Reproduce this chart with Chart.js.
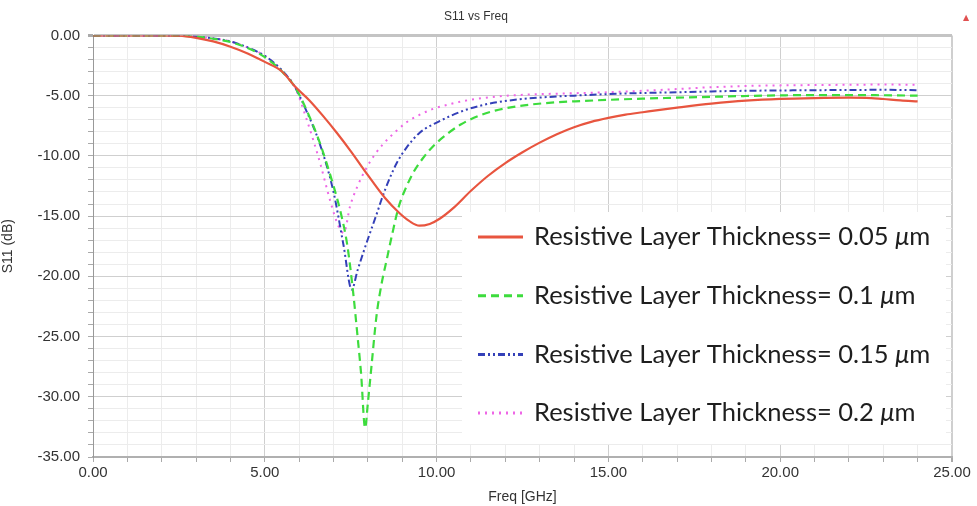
<!DOCTYPE html>
<html>
<head>
<meta charset="utf-8">
<title>S11 vs Freq</title>
<script src="https://cdn.jsdelivr.net/npm/chart.js@4.4.1/dist/chart.umd.min.js"></script>
<style>
    html, body { margin: 0; padding: 0; background: #ffffff; }
    #wrap { width: 977px; height: 506px; position: relative; }
</style>
</head>
<body>
<div id="wrap"><canvas id="s11Chart"></canvas></div>
<script>
// ==================== DATA ====================

var thickness = ["0.05", "0.1", "0.15", "0.2"];

// 0.05 um
var redFreq = [0, 1, 2, 2.5, 3, 3.5, 4, 4.5, 5, 5.5, 5.88, 6.3, 6.7, 7.1, 7.5, 8, 8.5, 8.9, 9.2, 9.5, 9.8, 10.1, 10.5, 11, 11.5, 12, 12.5, 13, 13.5, 14, 14.5, 15, 15.5, 16, 16.5, 17, 18, 19, 20, 21, 22, 22.5, 23, 23.5, 24];
var redS11 = [0, 0, 0, -0.02, -0.2, -0.5, -0.94, -1.5, -2.2, -3.0, -4.25, -5.4, -6.7, -8.1, -9.6, -11.6, -13.5, -14.7, -15.4, -15.8, -15.65, -15.2, -14.3, -12.9, -11.65, -10.6, -9.7, -8.9, -8.2, -7.62, -7.18, -6.85, -6.58, -6.38, -6.18, -6.0, -5.67, -5.42, -5.27, -5.2, -5.17, -5.18, -5.28, -5.4, -5.47];

// 0.1 um
var greenFreq = [0, 2, 2.5, 3, 3.5, 4, 4.5, 5, 5.5, 5.88, 6.2, 6.6, 7, 7.2, 7.4, 7.57, 7.7, 7.8, 7.92, 8, 8.1, 8.25, 8.4, 8.55, 8.7, 8.9, 9.1, 9.32, 9.6, 9.9, 10.3, 10.7, 11.2, 11.7, 12.2, 12.7, 13.5, 14.2, 15, 16, 17, 18, 19, 20, 21, 22, 23, 24];
var greenS11 = [0, 0, -0.02, -0.1, -0.28, -0.55, -1.05, -1.8, -3.0, -4.3, -6.1, -8.9, -12.5, -14.6, -17.4, -21.3, -25, -28, -32.6, -30.5, -27.6, -23.3, -20.6, -18.6, -16.6, -14.2, -12.7, -11.4, -10.2, -9.2, -8.2, -7.4, -6.7, -6.25, -5.95, -5.75, -5.55, -5.45, -5.35, -5.25, -5.17, -5.1, -5.03, -4.98, -4.95, -4.95, -4.97, -5.0];

// 0.15 um
var blueFreq = [0, 2, 2.5, 3, 3.5, 4, 4.5, 5, 5.5, 5.88, 6.2, 6.6, 7, 7.29, 7.53, 7.7, 7.87, 8.05, 8.26, 8.4, 8.6, 8.84, 9.13, 9.5, 10.1, 10.78, 11.25, 11.75, 12.5, 13.2, 14, 15, 16, 17, 18, 19, 20, 21, 22, 23, 24];
var blueS11 = [0, 0, -0.02, -0.1, -0.25, -0.5, -1.0, -1.7, -2.9, -4.3, -6.2, -9.0, -13.0, -17.4, -21.1, -19.5, -18.0, -16.5, -14.8, -13.6, -12.1, -10.6, -9.3, -8.1, -7.1, -6.25, -5.85, -5.55, -5.28, -5.12, -5.0, -4.87, -4.78, -4.72, -4.65, -4.6, -4.57, -4.55, -4.53, -4.52, -4.55];

// 0.2 um
var pinkFreq = [0, 2, 2.5, 3, 3.5, 4, 4.5, 5, 5.5, 5.88, 6.22, 6.61, 6.9, 7.14, 7.3, 7.48, 7.7, 7.96, 8.2, 8.45, 8.84, 9.13, 9.5, 9.9, 10.4, 10.78, 11.5, 12.2, 13, 14, 15, 16, 17, 18, 19, 20, 21, 22, 23, 24];
var pinkS11 = [0, 0, -0.02, -0.1, -0.25, -0.5, -1.0, -1.7, -2.95, -4.3, -7.0, -10.6, -13.7, -15.8, -16.4, -14.2, -12.5, -11.0, -9.9, -9.0, -7.9, -7.2, -6.6, -6.1, -5.7, -5.45, -5.15, -4.98, -4.88, -4.8, -4.72, -4.6, -4.45, -4.3, -4.2, -4.15, -4.12, -4.1, -4.08, -4.1];

// ==================== CHART ====================

function toPoints(xs, ys) {
    var pts = [];
    for (var i = 0; i < xs.length; i++) {
        pts.push({ x: xs[i], y: ys[i] });
    }
    return pts;
}

var axisFont = "'Liberation Sans Narrow', 'Liberation Sans', Arial, sans-serif";
var legendFont = "25.5px Lato, 'Open Sans', sans-serif";

// legend drawn inside the plot, like the HFSS export
var insideLegend = {
    id: "insideLegend",
    afterDraw: function(chart) {
        var ctx = chart.ctx;
        var sets = chart.data.datasets;
        ctx.save();
        ctx.fillStyle = "#ffffff";
        ctx.fillRect(462, 212, 484, 232);

        for (var i = 0; i < sets.length; i++) {
            var ds = sets[i];
            var y = 237 + i * 58.7;
            ctx.strokeStyle = ds.borderColor;
            ctx.lineWidth = 3;
            ctx.setLineDash(ds.borderDash || []);
            ctx.beginPath();
            ctx.moveTo(478, y);
            ctx.lineTo(523, y);
            ctx.stroke();
            ctx.setLineDash([]);

            ctx.fillStyle = "#1e1e1e";
            ctx.textBaseline = "middle";
            ctx.textAlign = "left";
            var x = 534;
            var txt = "Resistive Layer Thickness= " + thickness[i] + " ";
            ctx.font = legendFont;
            ctx.fillText(txt, x, y);
            x += ctx.measureText(txt).width;
            ctx.font = "italic " + legendFont;
            ctx.fillText("\u03bc", x, y);
            x += ctx.measureText("\u03bc").width;
            ctx.font = legendFont;
            ctx.fillText("m", x, y);
        }

        // little marker in the corner
        ctx.fillStyle = "#e05050";
        ctx.font = "8px 'DejaVu Sans', sans-serif";
        ctx.textAlign = "center";
        ctx.fillText("\u25b2", 966, 18);
        ctx.restore();
    }
};

function gridColor(c) {
    if (!c.tick) return "#e6e6e6";
    return (Math.round(c.tick.value) % 5 === 0) ? "#cfcfcf" : "#ececec";
}

function fmtTick(v) {
    if (Math.round(v) % 5 !== 0) return "";
    return v.toFixed(2);
}

var ctx = document.getElementById("s11Chart").getContext("2d");

var s11Chart = new Chart(ctx, {
    type: "line",
    data: {
        datasets: [{
            label: "Resistive Layer Thickness= 0.05 \u03bcm",
            data: toPoints(redFreq, redS11),
            borderColor: "#e8553f",
            borderWidth: 2.2,
            cubicInterpolationMode: "monotone"
        }, {
            label: "Resistive Layer Thickness= 0.1 \u03bcm",
            data: toPoints(greenFreq, greenS11),
            borderColor: "#3ddc3d",
            borderWidth: 2.2,
            borderDash: [8, 5],
            cubicInterpolationMode: "monotone"
        }, {
            label: "Resistive Layer Thickness= 0.15 \u03bcm",
            data: toPoints(blueFreq, blueS11),
            borderColor: "#3440b8",
            borderWidth: 2,
            borderDash: [7, 3, 2, 3, 2, 3],
            cubicInterpolationMode: "monotone"
        }, {
            label: "Resistive Layer Thickness= 0.2 \u03bcm",
            data: toPoints(pinkFreq, pinkS11),
            borderColor: "#ee66e6",
            borderWidth: 2,
            borderDash: [2, 5],
            cubicInterpolationMode: "monotone"
        }]
    },
    options: {
        responsive: true,
        maintainAspectRatio: false,
        animation: false,
        layout: { padding: { left: 0, right: 25, top: 0, bottom: 0 } },
        elements: { point: { radius: 0 } },
        plugins: {
            legend: { display: false },
            tooltip: { enabled: false },
            title: {
                display: true,
                text: "S11 vs Freq",
                color: "#333333",
                font: { family: axisFont, size: 12, weight: "normal" },
                padding: { top: 9, bottom: 12 }
            }
        },
        scales: {
            x: {
                type: "linear",
                min: 0,
                max: 25,
                afterFit: function(scale) { scale.height = 49; },
                ticks: {
                    stepSize: 1,
                    autoSkip: false,
                    maxRotation: 0,
                    padding: 2,
                    color: "#333333",
                    font: { family: axisFont, size: 15 },
                    callback: fmtTick
                },
                grid: {
                    color: gridColor,
                    lineWidth: function(c) { return (c.tick && c.tick.value === 25) ? 2 : 1; },
                    tickLength: 5,
                    tickColor: "#aaaaaa"
                },
                border: { color: "#b0b0b0", width: 2 },
                title: {
                    display: true,
                    text: "Freq [GHz]",
                    color: "#333333",
                    font: { family: axisFont, size: 14 },
                    padding: { top: 0, bottom: 0 }
                }
            },
            y: {
                min: -35,
                max: 0,
                afterFit: function(scale) { scale.width = 93; },
                ticks: {
                    stepSize: 1,
                    autoSkip: false,
                    padding: 8,
                    color: "#333333",
                    font: { family: axisFont, size: 15 },
                    callback: fmtTick
                },
                grid: {
                    color: function(c) {
                        if (c.tick && c.tick.value === 0) return "#c4c4c4";
                        return gridColor(c);
                    },
                    lineWidth: function(c) { return (c.tick && c.tick.value === 0) ? 3 : 1; },
                    tickLength: 5,
                    tickColor: "#aaaaaa"
                },
                border: { color: "#999999", width: 1 },
                title: {
                    display: true,
                    text: "S11 (dB)",
                    color: "#333333",
                    font: { family: axisFont, size: 14 },
                    padding: { top: 0, bottom: 2 }
                }
            }
        }
    },
    plugins: [insideLegend]
});
</script>
</body>
</html>
